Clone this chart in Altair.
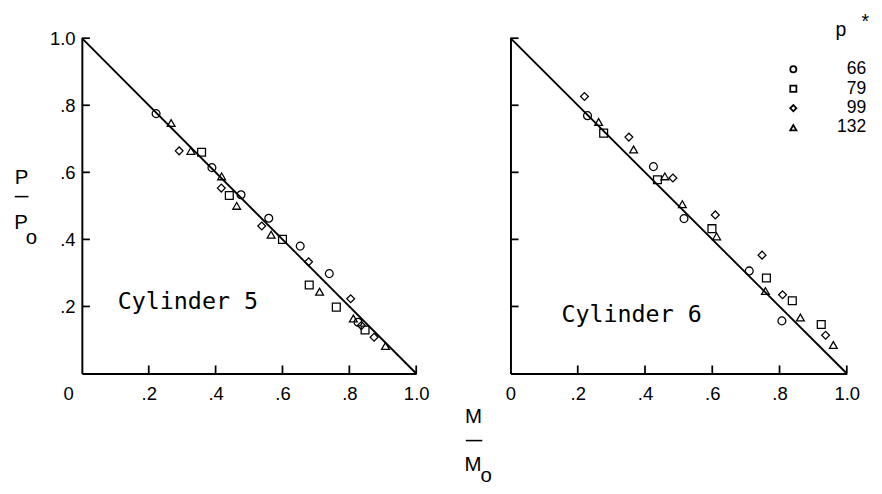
import altair as alt
import pandas as pd

# ---------------- data ----------------
P_LEVELS = ["66", "79", "99", "132"]
SHAPES = ["circle", "square", "diamond", "triangle-up"]

# Cylinder 5
c5_66_x = [0.222, 0.389, 0.476, 0.559, 0.653, 0.740, 0.826]
c5_66_y = [0.775, 0.614, 0.533, 0.463, 0.380, 0.298, 0.153]
c5_79_x = [0.358, 0.441, 0.600, 0.680, 0.761, 0.847]
c5_79_y = [0.660, 0.531, 0.400, 0.264, 0.198, 0.130]
c5_99_x = [0.291, 0.417, 0.538, 0.678, 0.804, 0.836, 0.874]
c5_99_y = [0.664, 0.553, 0.440, 0.333, 0.223, 0.143, 0.108]
c5_132_x = [0.267, 0.326, 0.418, 0.463, 0.566, 0.711, 0.812, 0.908]
c5_132_y = [0.747, 0.664, 0.588, 0.500, 0.414, 0.244, 0.164, 0.082]

# Cylinder 6
c6_66_x = [0.229, 0.425, 0.516, 0.710, 0.807]
c6_66_y = [0.769, 0.617, 0.462, 0.306, 0.157]
c6_79_x = [0.277, 0.437, 0.599, 0.761, 0.838, 0.924]
c6_79_y = [0.717, 0.578, 0.432, 0.285, 0.217, 0.146]
c6_99_x = [0.220, 0.352, 0.483, 0.609, 0.748, 0.809, 0.937]
c6_99_y = [0.826, 0.705, 0.583, 0.473, 0.353, 0.235, 0.114]
c6_132_x = [0.262, 0.366, 0.459, 0.511, 0.613, 0.758, 0.862, 0.960]
c6_132_y = [0.750, 0.668, 0.588, 0.505, 0.409, 0.246, 0.167, 0.085]

# reference line P/Po = 1 - M/Mo
line_x = [0.0, 1.0]
line_y = [1.0, 0.0]

X_TICKS = [0.0, 0.2, 0.4, 0.6, 0.8, 1.0]
Y_TICKS = [0.2, 0.4, 0.6, 0.8, 1.0]
INNER_TICKS = [0.2, 0.4, 0.6, 0.8, 1.0]
TICK_LEN = 0.024

FONT = "Liberation Sans"
MONO = "DejaVu Sans Mono"


def frame(groups):
    rows = []
    for p, xs_, ys_ in groups:
        for a, b in zip(xs_, ys_):
            rows.append({"x": a, "y": b, "p": p})
    return pd.DataFrame(rows)


df5 = frame([("66", c5_66_x, c5_66_y), ("79", c5_79_x, c5_79_y),
             ("99", c5_99_x, c5_99_y), ("132", c5_132_x, c5_132_y)])
df6 = frame([("66", c6_66_x, c6_66_y), ("79", c6_79_x, c6_79_y),
             ("99", c6_99_x, c6_99_y), ("132", c6_132_x, c6_132_y)])
df_line = pd.DataFrame({"x": line_x, "y": line_y})
df_xt = pd.DataFrame({"x": INNER_TICKS})
df_yt = pd.DataFrame({"y": INNER_TICKS})
one = alt.Data(values=[{"k": 0}])

LABEL_EXPR = ("datum.value == 0 ? '0' : (datum.value == 1 ? '1.0' : "
              "'.' + format(round(datum.value * 10), 'd'))")

xs = alt.Scale(domain=[0, 1], nice=False, zero=True)
ys = alt.Scale(domain=[0, 1], nice=False, zero=True)


def xaxis(shift_ends):
    kw = {}
    if shift_ends:
        kw["labelOffset"] = {
            "condition": {"test": "datum.value == 0", "value": -14},
            "value": 0,
        }
    return alt.Axis(values=X_TICKS, labelExpr=LABEL_EXPR, ticks=False,
                    labelPadding=12, labelFlush=False, grid=False, title=None,
                    domainColor="black", domainWidth=2, labelFont=FONT,
                    labelFontSize=19, labelColor="black", **kw)


def yaxis(labels):
    return alt.Axis(values=Y_TICKS, labelExpr=LABEL_EXPR, ticks=False,
                    labels=labels, labelPadding=7, labelFlush=False,
                    grid=False, title=None, domainColor="black",
                    domainWidth=2, labelFont=FONT, labelFontSize=19,
                    labelColor="black")


def text_at(txt, x, y, size=21, font=FONT, baseline="middle"):
    return alt.Chart(one).mark_text(
        text=txt, font=font, fontSize=size, align="center",
        baseline=baseline, color="black"
    ).encode(x=alt.value(x), y=alt.value(y))


def bar_at(x1, x2, y):
    return alt.Chart(one).mark_rule(color="black", strokeWidth=1.6).encode(
        x=alt.value(x1), x2=alt.value(x2), y=alt.value(y))


def panel(df, label, lx, ly, width, y_labels, shift_ends, legend, extras):
    XA = xaxis(shift_ends)
    YA = yaxis(y_labels)
    pts = alt.Chart(df).mark_point(
        filled=False, color="black", strokeWidth=1.3, size=65, opacity=1
    ).encode(
        x=alt.X("x:Q", scale=xs, axis=XA),
        y=alt.Y("y:Q", scale=ys, axis=YA),
        shape=alt.Shape("p:N", sort=P_LEVELS,
                        scale=alt.Scale(domain=P_LEVELS, range=SHAPES),
                        legend=legend),
    )
    ln = alt.Chart(df_line).mark_line(color="black", strokeWidth=1.9).encode(
        x=alt.X("x:Q", scale=xs, axis=XA), y=alt.Y("y:Q", scale=ys, axis=YA))
    xt = alt.Chart(df_xt).mark_rule(color="black", strokeWidth=1.8).encode(
        x=alt.X("x:Q", scale=xs, axis=XA),
        y=alt.Y(datum=0.0, scale=ys, axis=YA),
        y2=alt.Y2(datum=TICK_LEN))
    yt = alt.Chart(df_yt).mark_rule(color="black", strokeWidth=1.8).encode(
        y=alt.Y("y:Q", scale=ys, axis=YA),
        x=alt.X(datum=0.0, scale=xs, axis=XA),
        x2=alt.X2(datum=TICK_LEN))
    cyl = alt.Chart(one).mark_text(
        text=label, font=MONO, fontSize=24, align="center",
        baseline="middle", color="black"
    ).encode(x=alt.X(datum=lx, scale=xs, axis=XA),
             y=alt.Y(datum=ly, scale=ys, axis=YA))
    return alt.layer(pts, ln, xt, yt, cyl, *extras).properties(
        width=width, height=345)


left_extras = [
    # y title  P / Po
    text_at("P", -62, 143.5), bar_at(-69, -55, 163),
    text_at("P", -62.5, 190), text_at("o", -52, 206),
    # x title  M / Mo
    text_at("M", 403, 389.5), bar_at(395, 412, 414),
    text_at("M", 402.5, 439), text_at("o", 416, 451),
]
right_extras = [
    text_at("p", 340, -2, size=20, baseline="alphabetic"),
    text_at("*", 365, -11, size=20, baseline="alphabetic"),
]

legend = alt.Legend(title=None, orient="none", legendX=282, legendY=23,
                    labelAlign="right", labelOffset=66, labelFont=FONT,
                    labelFontSize=18, labelColor="black", labelLimit=200,
                    symbolSize=40, symbolStrokeWidth=1.8,
                    symbolStrokeColor="black", rowPadding=2)

left = panel(df5, "Cylinder 5", 0.317, 0.214, 344, True, True, None,
             left_extras)
right = panel(df6, "Cylinder 6", 0.36, 0.174, 346, False, False, legend,
              right_extras)

chart = alt.hconcat(left, right, spacing=97, bounds="flush").resolve_scale(
    shape="independent"
).properties(
    padding={"left": 6, "top": -3, "right": 5, "bottom": 5},
    background="white",
).configure_view(strokeWidth=0)

chart.save("out.html", embed_options={"renderer": "svg", "actions": False})
